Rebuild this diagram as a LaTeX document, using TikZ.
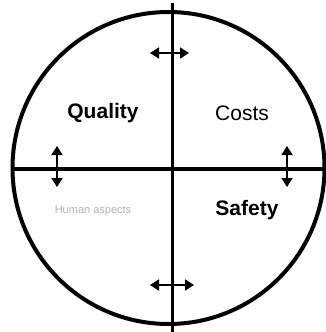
\documentclass[tikz,border=0pt]{standalone}
\usepackage{fontspec}
\setmainfont{Liberation Sans}
\usetikzlibrary{arrows.meta}
\begin{document}
\begin{tikzpicture}[x=1pt,y=-1pt,
  rim/.style={line width=4pt},
  axis/.style={line width=3.2pt},
  dbl/.style={line width=1.8pt,{Triangle[width=11pt,length=9pt]}-{Triangle[width=11pt,length=9pt]}},
  lbl/.style={font=\fontsize{21}{23}\selectfont\bfseries},
  lbllight/.style={font=\fontsize{21}{23}\selectfont},
  faint/.style={font=\fontsize{11}{12}\selectfont, text=black!30}]
\useasboundingbox (0,0) rectangle (326,332);
\node[circle, draw, rim, minimum size=312pt, inner sep=0pt] (ring) at (168.5,168) {};
\coordinate (vt) at (172.5,3);
\coordinate (vb) at (172.5,332);
\coordinate (hl) at (12,169);
\coordinate (hr) at (326,169);
\draw[axis] (vt) -- (vb);
\draw[axis] (hl) -- (hr);
\coordinate (a1) at (150,53); \coordinate (b1) at (189,53);
\coordinate (a2) at (150,285); \coordinate (b2) at (194,285);
\coordinate (a3) at (57,146); \coordinate (b3) at (57,187);
\coordinate (a4) at (287,146); \coordinate (b4) at (287,187);
\draw[dbl] (a1) -- (b1);
\draw[dbl] (a2) -- (b2);
\draw[dbl] (a3) -- (b3);
\draw[dbl] (a4) -- (b4);
\node[lbl] (quality) at (103,113) {Quality};
\node[lbllight] (costs) at (242,113) {Costs};
\node[lbl] (safety) at (247,210) {Safety};
\node[faint] (fourth) at (93,211) {Human aspects};
\end{tikzpicture}
\end{document}
